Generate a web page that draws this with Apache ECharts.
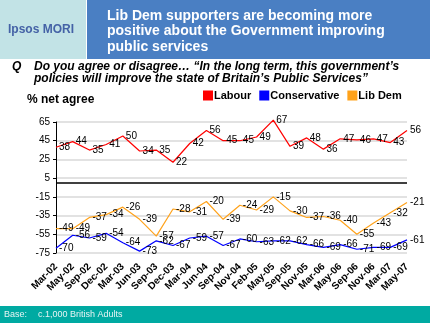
<!DOCTYPE html>
<html>
<head>
<meta charset="utf-8">
<script src="https://cdn.jsdelivr.net/npm/echarts@6/dist/echarts.min.js"></script>
<style>
html,body{margin:0;padding:0;background:#fff;}
#c{width:430px;height:323px;}
</style>
</head>
<body>
<div id="c"></div>
<script>
var categories = ['Mar-02','May-02','Sep-02','Dec-02','Mar-03','Jun-03','Sep-03','Dec-03','Mar-04','Jun-04','Sep-04','Nov-04','Feb-05','May-05','Sep-05','Nov-05','Mar-06','May-06','Sep-06','Nov-06','Mar-07','May-07'];
var labour = [38,44,35,41,50,34,35,22,42,56,45,45,49,67,39,48,36,47,46,47,43,56];
var conservative = [-70,-56,-59,-54,-64,-73,-62,-67,-59,-57,-67,-60,-63,-62,-62,-66,-69,-66,-71,-69,-69,-61];
var libdem = [-49,-49,-37,-34,-26,-39,-57,-28,-31,-20,-39,-24,-29,-15,-30,-37,-36,-40,-55,-43,-32,-21];
var yTicks = {min: -75, max: 65, interval: 20};

var FONT = 'Liberation Sans, Arial, sans-serif';
var chart = echarts.init(document.getElementById('c'), null, {renderer: 'canvas'});

function lineSeries(name, data, color, extra) {
  var s = {
    name: name,
    type: 'line',
    data: data,
    clip: false,
    symbol: 'circle',
    symbolSize: 0,
    showSymbol: true,
    lineStyle: {color: color, width: 1.2},
    itemStyle: {color: color},
    label: {
      show: true, position: 'right', distance: 3, offset: [0, 2],
      color: '#000', fontFamily: FONT, fontSize: 10
    },
    labelLayout: {hideOverlap: false},
    z: 3
  };
  if (extra) Object.assign(s, extra);
  return s;
}

var option = {
  animation: false,
  textStyle: {fontFamily: FONT},
  grid: {left: 56, right: 23, top: 122, bottom: 70, containLabel: false},
  legend: {
    left: 203, top: 90, padding: 0,
    icon: 'rect', itemWidth: 10, itemHeight: 10, itemGap: 8,
    textStyle: {fontFamily: FONT, fontSize: 11, fontWeight: 'bold', color: '#000', padding: [0, 0, 0, -4]},
    data: ['Labour', 'Conservative', 'Lib Dem']
  },
  xAxis: {
    type: 'category',
    data: categories,
    boundaryGap: false,
    axisLine: {show: false},
    axisTick: {show: false},
    axisLabel: {
      rotate: 45, interval: 0, margin: 12,
      fontFamily: FONT, fontSize: 10, fontWeight: 'bold', color: '#000'
    },
    splitLine: {show: false}
  },
  yAxis: {
    type: 'value',
    min: yTicks.min, max: yTicks.max, interval: yTicks.interval,
    axisLine: {show: true, lineStyle: {color: '#000', width: 1}},
    axisTick: {show: true, length: 3, lineStyle: {color: '#000'}},
    axisLabel: {fontFamily: FONT, fontSize: 10, color: '#000', margin: 6},
    splitLine: {show: true, lineStyle: {color: '#d9d9d9', width: 1.5}}
  },
  series: [
    lineSeries('Labour', labour, '#ff0000', {
      markLine: {
        silent: true, symbol: 'none', label: {show: false},
        lineStyle: {color: '#000', width: 1.5, type: 'solid'},
        data: [{yAxis: 0}]
      }
    }),
    lineSeries('Conservative', conservative, '#0000ff'),
    lineSeries('Lib Dem', libdem, '#ffa21a')
  ],
  graphic: [
    {type: 'rect', shape: {x: 0, y: 0, width: 86, height: 59}, style: {fill: '#c2e3e6'}},
    {type: 'rect', shape: {x: 87, y: 0, width: 343, height: 59}, style: {fill: '#4a7fc3'}},
    {type: 'text', left: 8, top: 24, style: {text: 'Ipsos MORI', fill: '#4462a6', font: 'bold 12px ' + FONT}},
    {type: 'text', left: 107, top: 8, style: {text: 'Lib Dem supporters are becoming more\npositive about the Government improving\npublic services', fill: '#fff', font: 'bold 14px ' + FONT, lineHeight: 15.5}},
    {type: 'text', left: 12, top: 61, style: {text: 'Q', fill: '#000', font: 'italic bold 12px ' + FONT}},
    {type: 'text', left: 34, top: 61, style: {text: 'Do you agree or disagree\u2026 \u201cIn the long term, this government\u2019s\npolicies will improve the state of Britain\u2019s Public Services\u201d', fill: '#000', font: 'italic bold 12px ' + FONT, lineHeight: 12}},
    {type: 'text', left: 27, top: 94, style: {text: '% net agree', fill: '#000', font: 'bold 12px ' + FONT}},
    {type: 'rect', shape: {x: 0, y: 306, width: 430, height: 17}, style: {fill: '#00aaa2'}},
    {type: 'text', left: 4, top: 310, style: {text: 'Base:', fill: '#e6f4f4', font: '9px ' + FONT}},
    {type: 'text', left: 38, top: 310, style: {text: 'c.1,000 British Adults', fill: '#e6f4f4', font: '9px ' + FONT}}
  ]
};
chart.setOption(option);
</script>
</body>
</html>
